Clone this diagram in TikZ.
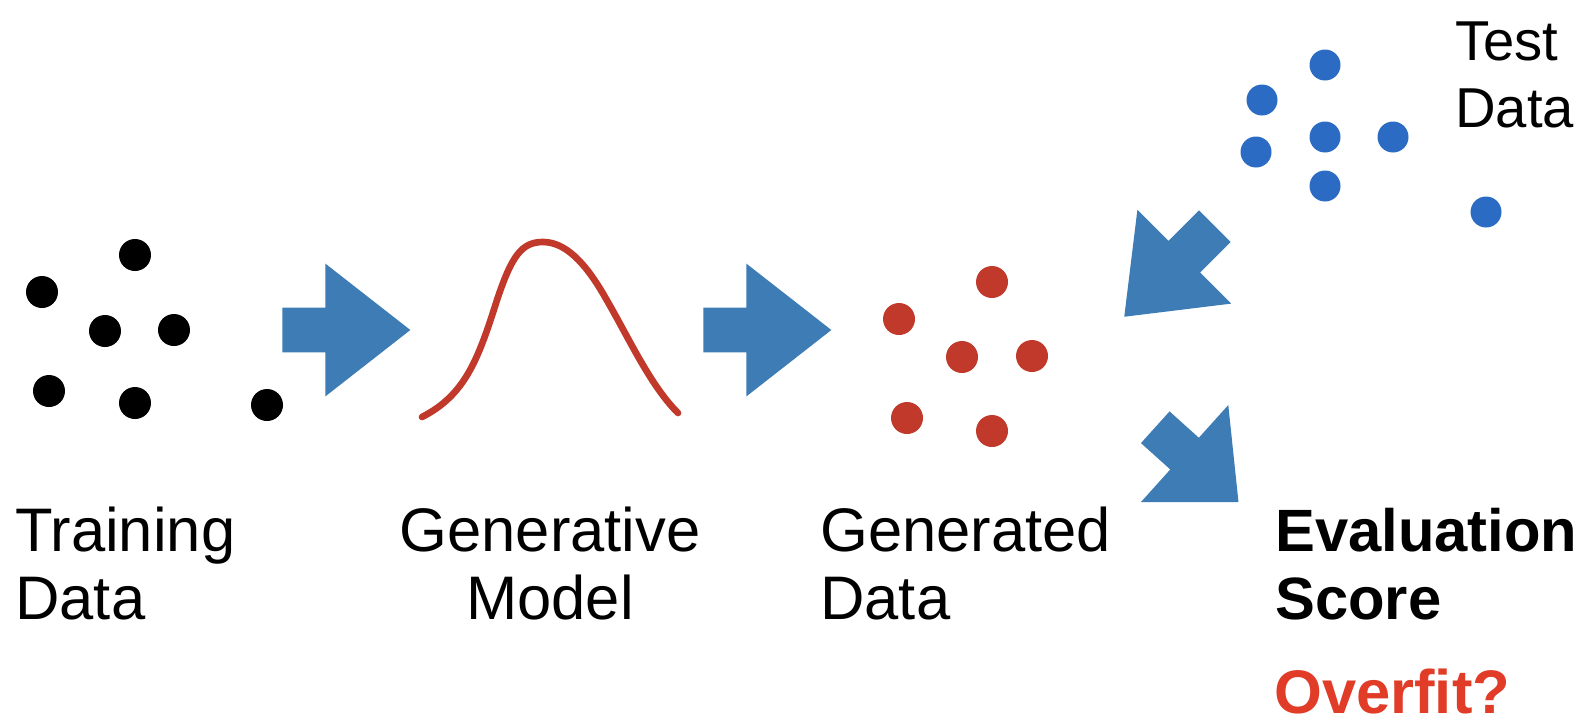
\documentclass[tikz,border=0pt]{standalone}
\usepackage{fontspec}
\setmainfont{Liberation Sans}
\usetikzlibrary{shapes.arrows}
\definecolor{arrowblue}{HTML}{3E7CB6}
\definecolor{genred}{HTML}{C0392B}
\definecolor{testblue}{HTML}{2C6BC4}
\definecolor{fitred}{HTML}{E03C28}

\begin{document}
\begin{tikzpicture}[
    x=0.02cm, y=-0.02cm,
    bigarrow/.style={single arrow, fill=arrowblue, draw=none, inner sep=0pt,
                     inner ysep=0.44cm, minimum height=2.56cm, anchor=tail,
                     single arrow head extend=0.88cm, single arrow tip angle=76},
    trdot/.style={circle, fill=black, inner sep=0pt, minimum size=0.64cm},
    gendot/.style={circle, fill=genred, inner sep=0pt, minimum size=0.64cm},
    testdot/.style={circle, fill=testblue, inner sep=0pt, minimum size=0.62cm},
    lbl/.style={inner sep=0pt, font=\fontsize{35}{38.6}\selectfont}
  ]

  % ---- Canvas ----
  \useasboundingbox[fill=white] (0,0) rectangle (1588,724);

  % ---- Training data ----
  \node[trdot] (t1) at (135,255) {};
  \node[trdot] (t2) at (42,292) {};
  \node[trdot] (t3) at (105,331) {};
  \node[trdot] (t4) at (174,330) {};
  \node[trdot] (t5) at (49,391) {};
  \node[trdot] (t6) at (135,403) {};
  \node[trdot] (t7) at (267,405) {};

  % ---- Generative model (density curve) ----
  \draw[genred, line width=3.8pt, line cap=round]
    (422,417) .. controls (465,395) and (478,360) .. (497,300)
              .. controls (512,255) and (522,242) .. (543,242)
              .. controls (565,242) and (585,262) .. (605,297)
              .. controls (630,340) and (650,385) .. (678,413);

  % ---- Generated data ----
  \node[gendot] (g1) at (992,282) {};
  \node[gendot] (g2) at (899,319) {};
  \node[gendot] (g3) at (962,357) {};
  \node[gendot] (g4) at (1032,356) {};
  \node[gendot] (g5) at (907,418) {};
  \node[gendot] (g6) at (992,431) {};

  % ---- Test data ----
  \node[testdot] (s1) at (1325,65) {};
  \node[testdot] (s2) at (1262,100) {};
  \node[testdot] (s3) at (1325,137) {};
  \node[testdot] (s4) at (1393,137) {};
  \node[testdot] (s5) at (1256,152) {};
  \node[testdot] (s6) at (1325,186) {};
  \node[testdot] (s7) at (1486,212) {};

  % ---- Block arrows ----
  \node[bigarrow] (arr1) at (282,330) {};
  \node[bigarrow] (arr2) at (703,330) {};
  \node[bigarrow, rotate=-135] (arr3) at (1215,226) {};
  \node[bigarrow, rotate=-42, minimum height=2.24cm, inner ysep=0.42cm,
        single arrow tip angle=84] (arr4) at (1155,427) {};

  % ---- Labels ----
  \node[lbl, anchor=base west, align=left] (train) at (15,619) {Training\\Data};
  \node[lbl, anchor=base, align=center] (model) at (550,619) {Generative\\Model};
  \node[lbl, anchor=base west, align=left] (gen) at (820,619) {Generated\\Data};
  \node[lbl, anchor=base west, align=left, font=\fontsize{32}{38}\selectfont]
    (test) at (1455,127) {Test\\Data};
  \node[lbl, anchor=base west, align=left, font=\fontsize{34}{38.6}\selectfont\bfseries]
    (score) at (1275,619) {Evaluation\\Score};
  \node[lbl, anchor=base west, text=fitred, font=\fontsize{35}{38.6}\selectfont\bfseries]
    (fit) at (1274,713) {Overfit?};

\end{tikzpicture}
\end{document}
